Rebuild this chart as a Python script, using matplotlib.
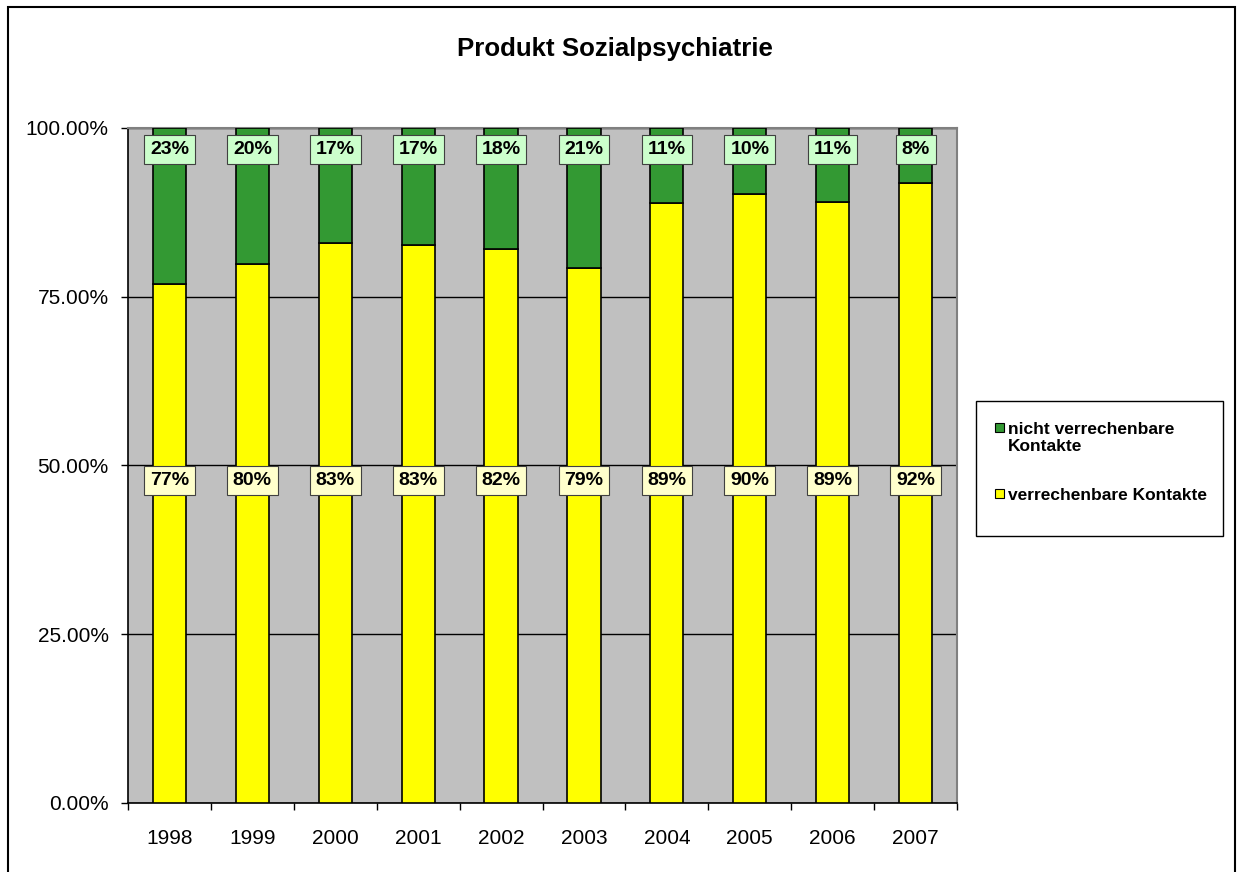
import matplotlib
matplotlib.use("Agg")
import matplotlib.pyplot as plt
from matplotlib.patches import Rectangle
import numpy as np

plt.rcParams['font.family'] = ['Liberation Sans', 'DejaVu Sans']

years = ['1998', '1999', '2000', '2001', '2002', '2003', '2004', '2005', '2006', '2007']
verrechenbar = [76.9, 79.9, 82.9, 82.7, 82.1, 79.2, 88.9, 90.2, 89.0, 91.9]
nicht_verrechenbar = [23.1, 20.1, 17.1, 17.3, 17.9, 20.8, 11.1, 9.8, 11.0, 8.1]
series_names = ['nicht verrechenbare\nKontakte', 'verrechenbare Kontakte']
title = 'Produkt Sozialpsychiatrie'

GREEN = '#339933'
YELLOW = '#FFFF00'

W, H = 1241, 872
fig = plt.figure(figsize=(W / 100, H / 100), dpi=100)
fig.patch.set_facecolor('white')

# outer chart border
fig.patches.append(Rectangle((8 / W, -0.05), (1235 - 8) / W, 1.05 - 7 / H,
                             transform=fig.transFigure, fill=False,
                             edgecolor='black', linewidth=1.5))

ax = fig.add_axes([128 / W, 1 - 803 / H, (957 - 128) / W, (803 - 128) / H])
ax.set_facecolor('#C0C0C0')

x = np.arange(len(years))
ax.bar(x, verrechenbar, width=0.4, color=YELLOW, edgecolor='black', linewidth=1.2, zorder=3)
ax.bar(x, nicht_verrechenbar, width=0.4, bottom=verrechenbar, color=GREEN,
       edgecolor='black', linewidth=1.2, zorder=3)

ax.set_xlim(-0.5, len(years) - 0.5)
ax.set_ylim(0, 100)
ax.set_yticks([0, 25, 50, 75, 100])
ax.set_yticklabels(['0.00%', '25.00%', '50.00%', '75.00%', '100.00%'], fontsize=15)
ax.yaxis.grid(True, color='black', linewidth=1.0, zorder=1)
ax.set_axisbelow(True)

ax.set_xticks(x)
ax.set_xticklabels(years, fontsize=15)
ax.set_xticks(np.arange(-0.5, len(years), 1.0), minor=True)
ax.tick_params(axis='x', which='major', length=0, pad=19)
ax.tick_params(axis='x', which='minor', length=5, width=1, direction='out')
ax.tick_params(axis='y', length=5, width=1, direction='out', pad=9)

for s in ['left', 'bottom']:
    ax.spines[s].set_color('black')
    ax.spines[s].set_linewidth(1.2)
for s in ['top', 'right']:
    ax.spines[s].set_color('#808080')
    ax.spines[s].set_linewidth(1.5)

for i in range(len(years)):
    ax.text(x[i], 96.8, f'{round(nicht_verrechenbar[i])}%', ha='center', va='center',
            fontsize=14, fontweight='bold', zorder=5,
            bbox=dict(boxstyle='square,pad=0.3', facecolor='#CCFFCC',
                      edgecolor='#404040', linewidth=0.8))
    ax.text(x[i], 47.8, f'{round(verrechenbar[i])}%', ha='center', va='center',
            fontsize=14, fontweight='bold', zorder=5,
            bbox=dict(boxstyle='square,pad=0.3', facecolor='#FFFFCC',
                      edgecolor='#404040', linewidth=0.8))

fig.text(615 / W, 1 - 49 / H, title, ha='center', va='center',
         fontsize=18.6, fontweight='bold')

# legend (manual, Excel-style)
fig.patches.append(Rectangle((976 / W, 1 - 536 / H), (1223 - 976) / W, (536 - 401) / H,
                             transform=fig.transFigure, facecolor='white',
                             edgecolor='black', linewidth=1.0))
legend_colors = [GREEN, YELLOW]
legend_y = [428, 494]
for name, col, yy in zip(series_names, legend_colors, legend_y):
    fig.patches.append(Rectangle((995 / W, 1 - (yy + 4.5) / H), 9 / W, 9 / H,
                                 transform=fig.transFigure, facecolor=col,
                                 edgecolor='black', linewidth=0.8))
    fig.text(1008 / W, 1 - (yy - 6) / H, name, ha='left', va='top',
             fontsize=12.5, fontweight='bold', linespacing=1.15)

fig.savefig('out.png', dpi=100)
